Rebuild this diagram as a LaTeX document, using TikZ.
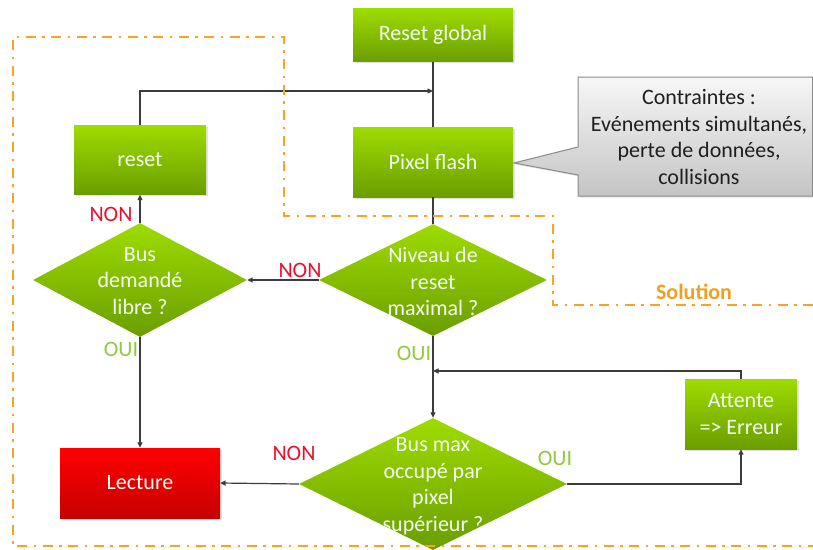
\documentclass[tikz,border=0pt]{standalone}
\usepackage{fontspec}
\setmainfont{Carlito}
\usetikzlibrary{shapes.geometric,arrows.meta,shadows}
\definecolor{gtop}{HTML}{9EDC00}
\definecolor{gbot}{HTML}{6A9E00}
\definecolor{rtop}{HTML}{FF0000}
\definecolor{rbot}{HTML}{C80000}
\definecolor{orangeln}{HTML}{F8A227}
\definecolor{soltxt}{HTML}{F0A020}
\definecolor{nonred}{HTML}{E8112D}
\definecolor{ouigreen}{HTML}{92C83E}
\definecolor{lineclr}{HTML}{3C3C3C}
\definecolor{ctop}{HTML}{F7F7F7}
\definecolor{cbot}{HTML}{C4C4C4}
\definecolor{cborder}{HTML}{8A8A8A}
\newcommand{\dfont}{\fontsize{22}{26.5}\selectfont}
\begin{document}
\begin{tikzpicture}[x=1pt,y=1pt,
  shad/.style={drop shadow={opacity=0.22, shadow xshift=1.5pt, shadow yshift=-1.5pt}},
  box/.style={rectangle, top color=gtop, bottom color=gbot, text=white!96!green, font=\dfont, align=center, inner sep=0pt, shad},
  redbox/.style={box, top color=rtop, bottom color=rbot},
  dia/.style={diamond, top color=gtop, bottom color=gbot, inner sep=0pt},
  dtext/.style={text=white!96!green, font=\dfont, align=center, inner sep=0pt},
  conn/.style={draw=lineclr, line width=1.2pt},
  arr/.style={conn, -{Triangle[length=5.5pt,width=5pt]}},
  non/.style={text=nonred, font=\dfont, inner sep=0pt},
  oui/.style={text=ouigreen, font=\dfont, inner sep=0pt},
  orangedash/.style={draw=orangeln, line width=2.8pt, dash pattern=on 10pt off 6.5pt on 2.5pt off 6.5pt}
]
\useasboundingbox (0,0) rectangle (813,-549);

% callout
\shadedraw[top color=ctop, bottom color=cbot, draw=cborder, line width=1pt, shad]
  (578,-77) -- (812.5,-77) -- (812.5,-196) -- (578,-196) -- (578,-175) -- (514,-163) -- (578,-147) -- cycle;
\node[text=black!88, font=\dfont, align=center, inner sep=0pt] (callout) at (699,-137)
  {Contraintes :\\Evénements simultanés,\\perte de données,\\collisions};

% boxes
\node[box, minimum width=160pt, minimum height=53pt] (rg) at (433,-35) {Reset global};
\node[box, minimum width=160pt, minimum height=70pt] (pf) at (433,-162) {Pixel flash};
\node[box, minimum width=132pt, minimum height=69pt] (rs) at (140,-160) {reset};
\node[redbox, minimum width=160pt, minimum height=70pt] (lec) at (140,-483) {Lecture};
\node[box, minimum width=112pt, minimum height=70pt] (att) at (741,-414) {Attente\\=> Erreur};

% diamonds
\node[dia, minimum width=214pt, minimum height=114pt] (d1) at (140,-280) {};
\node[dtext] (t1) at (140,-281) {Bus\\demandé\\libre ?};
\node[dia, minimum width=228pt, minimum height=112pt] (d2) at (433,-280) {};
\node[dtext] (t2) at (433,-281.5) {Niveau de\\reset\\maximal ?};
\node[dia, minimum width=268pt, minimum height=132pt] (d3) at (433,-484) {};
\node[dtext] (t3) at (433,-486) {Bus max\\occupé par\\pixel\\supérieur ?};

% connectors
\coordinate (j1) at (433,-91);
\coordinate (j2) at (433,-371);
\draw[conn] (rg.south) -- (pf.north);
\draw[arr] (rs.north) |- (j1);
\draw[conn] (pf.south) -- (d2.north);
\draw[arr] (d2.west) -- (d1.east);
\draw[arr] (d1.north) -- (rs.south);
\draw[arr] (d1.south) -- (lec.north);
\draw[arr] (d2.south) -- (d3.north);
\draw[arr] (d3.west) -- (lec.east);
\draw[arr] (d3.east) -| (att.south);
\draw[arr] (att.north) |- (j2);

% labels
\node[non] (n1) at (111,-214) {NON};
\node[non] (n2) at (300,-270) {NON};
\node[non] (n3) at (294,-453) {NON};
\node[oui] (o1) at (121,-349) {OUI};
\node[oui] (o2) at (414,-353) {OUI};
\node[oui] (o3) at (555,-458) {OUI};

% solution zone
\draw[orangedash] (813,-305) -- (553,-305) -- (553,-216) -- (284,-216) -- (284,-37) -- (13,-37) -- (13,-546) -- (813,-546);
\node[text=soltxt, font=\dfont\bfseries, inner sep=0pt] (sol) at (694,-292) {Solution};
\end{tikzpicture}
\end{document}
